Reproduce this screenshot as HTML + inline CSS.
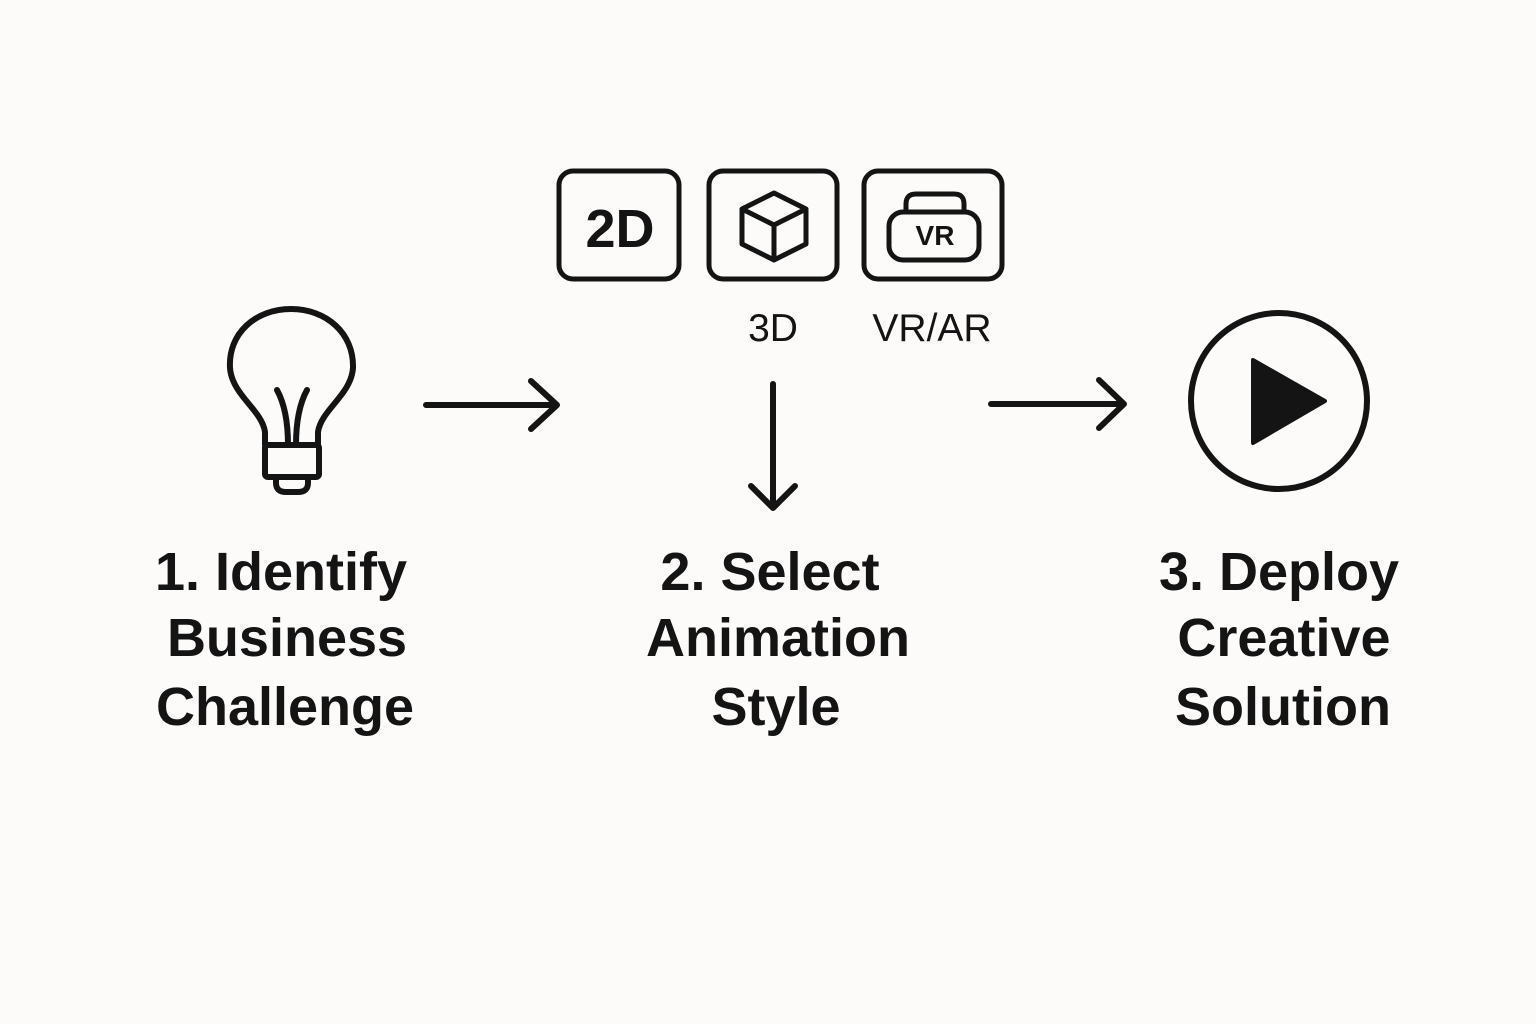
<!DOCTYPE html>
<html><head><meta charset="utf-8"><style>
html,body{margin:0;padding:0;background:#fcfbf9;}
svg{display:block}
text{font-family:"Liberation Sans",sans-serif;fill:#141414;font-weight:bold}
</style></head><body>
<svg width="1536" height="1024" viewBox="0 0 1536 1024" xmlns="http://www.w3.org/2000/svg">
<rect width="1536" height="1024" fill="#fcfbf9"/>
<g fill="none" stroke="#141414" stroke-width="6" stroke-linecap="round" stroke-linejoin="round">
<!-- bulb -->
<path d="M265,445 L265,432 C262,410 232,395 230,368 C228,333 256,309 291,309 C326,309 354,333 353,368 C351,395 321,410 318,432 L318,445"/>
<rect x="265" y="445" width="54" height="32" rx="3"/>
<path d="M276,479 L276,483 Q276,492 286,492 L298,492 Q308,492 308,483 L308,479"/>
<path d="M277,390 Q288,410 288,445"/>
<path d="M307,390 Q296,410 296,445"/>
<!-- arrows -->
<path d="M426,405 L557,405 M531,381 L557,405 L531,429"/>
<path d="M991,404 L1124,404 M1099,380 L1124,404 L1099,428"/>
<path d="M773,384 L773,508 M751,486 L773,508 L795,486"/>
<!-- boxes -->
<rect x="559" y="171" width="120" height="108" rx="14" stroke-width="5"/>
<rect x="709" y="171" width="128" height="108" rx="14" stroke-width="5"/>
<rect x="864" y="171" width="138" height="108" rx="14" stroke-width="5"/>
<!-- cube -->
<path d="M774,193 L806,209 L806,244 L774,260 L742,244 L742,209 Z M742,209 L774,225 L806,209 M774,225 L774,260" stroke-width="5"/>
<!-- VR headset -->
<rect x="889" y="212" width="90" height="48" rx="14" stroke-width="5"/>
<path d="M906,212 L906,204 Q906,194 916,194 L954,194 Q964,194 964,204 L964,212" stroke-width="5"/>
<!-- play -->
<circle cx="1279" cy="401" r="88" stroke-width="6"/>
</g>
<path d="M1253,360 L1325,401 L1253,443 Z" fill="#141414" stroke="#141414" stroke-width="4" stroke-linejoin="round"/>
<text x="620" y="247" font-size="54" text-anchor="middle">2D</text>
<text x="935" y="245" font-size="28" text-anchor="middle">VR</text>
<text x="773" y="341" font-size="39" text-anchor="middle" style="font-weight:normal">3D</text>
<text x="932" y="341" font-size="39" text-anchor="middle" style="font-weight:normal">VR/AR</text>
<g font-size="54" text-anchor="middle">
<text x="281" y="590">1. Identify</text>
<text x="287" y="656">Business</text>
<text x="285" y="725">Challenge</text>
<text x="770" y="590">2. Select</text>
<text x="778" y="656">Animation</text>
<text x="776" y="725">Style</text>
<text x="1279" y="590">3. Deploy</text>
<text x="1284" y="656">Creative</text>
<text x="1283" y="725">Solution</text>
</g>
</svg>
</body></html>
